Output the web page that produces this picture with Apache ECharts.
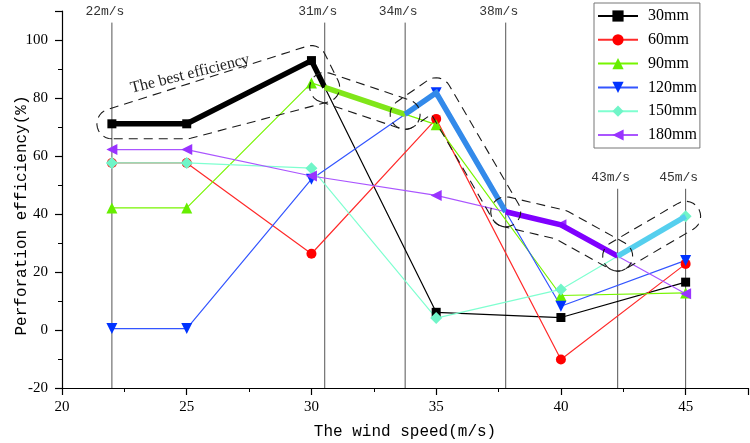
<!DOCTYPE html>
<html><head><meta charset="utf-8">
<script src="https://cdn.jsdelivr.net/npm/echarts@6/dist/echarts.min.js"></script>
<style>html,body{margin:0;padding:0;background:#fff}#c{width:750px;height:443px}</style>
</head><body><div id="c"></div>
<script>
// ---------------- data ----------------
const windSpeeds = [22, 25, 30, 35, 40, 45];
const seriesNames = ['30mm', '60mm', '90mm', '120mm', '150mm', '180mm'];
const eff30  = [71.1, 71.1, 92.9, 6.1, 4.3, 16.5];
const eff60  = [57.6, 57.6, 26.3, 72.8, -10.2, 22.8];
const eff90  = [42.1, 42.1, 85.2, 70.8, 11.9, 12.8];
const eff120 = [0.5, 0.5, 52.0, 81.8, 8.2, 24.0];
const eff150 = [57.6, 57.6, 55.8, 4.1, 14.0, 39.2];
const eff180 = [62.2, 62.2, 53.1, 46.4, 36.3, 12.5];
const xTickLabels = [20, 25, 30, 35, 40, 45];
const yTickLabels = [-20, 0, 20, 40, 60, 80, 100];
const markerLabels = ['22m/s', '31m/s', '34m/s', '38m/s', '43m/s', '45m/s'];
const annotationText = 'The best efficiency';

const allValues = [eff30, eff60, eff90, eff120, eff150, eff180];

// ---------------- layout / style ----------------
const layout = {
  xMax: 47.5, yMax: 110,
  markerTop: [106, 106, 106, 106, 48.7, 48.7],
  outlineRadius: 15
};
const styles = {
  '30mm':  {symbol: 'rect',     size: 9,  rotate: 0,   line: '#000000', marker: '#000000', thick: '#000000', outline: 'hull'},
  '60mm':  {symbol: 'circle',   size: 10, rotate: 0,   line: '#ff2a2a', marker: '#ff0000', thick: '#ff0000', outline: 'path'},
  '90mm':  {symbol: 'triangle', size: 11, rotate: 0,   line: '#77f500', marker: '#66ee00', thick: '#80e619', outline: 'path'},
  '120mm': {symbol: 'triangle', size: 11, rotate: 180, line: '#3355ff', marker: '#0033ff', thick: '#338aea', outline: 'path'},
  '150mm': {symbol: 'diamond',  size: 12, rotate: 0,   line: '#7fffd0', marker: '#70f5c8', thick: '#55cfee', outline: 'path'},
  '180mm': {symbol: 'triangle', size: 11, rotate: 90,  line: '#aa55ff', marker: '#9933ff', thick: '#7f00ff', outline: 'path'}
};

// ---------------- upper envelope (best efficiency) ----------------
function valueAt(vals, x) {
  for (let i = 0; i < windSpeeds.length - 1; i++) {
    const x0 = windSpeeds[i], x1 = windSpeeds[i + 1];
    if (x >= x0 - 1e-9 && x <= x1 + 1e-9) {
      return vals[i] + (vals[i + 1] - vals[i]) * (x - x0) / (x1 - x0);
    }
  }
  return NaN;
}
function argMaxAt(x) {
  let best = 0, bv = -Infinity;
  allValues.forEach((v, k) => { const y = valueAt(v, x); if (y > bv + 1e-9) { bv = y; best = k; } });
  return best;
}
const breaks = windSpeeds.slice();
for (let i = 0; i < windSpeeds.length - 1; i++) {
  for (let a = 0; a < allValues.length; a++) for (let b = a + 1; b < allValues.length; b++) {
    const d0 = allValues[a][i] - allValues[b][i], d1 = allValues[a][i + 1] - allValues[b][i + 1];
    if (d0 * d1 < 0) {
      const t = d0 / (d0 - d1);
      breaks.push(windSpeeds[i] + t * (windSpeeds[i + 1] - windSpeeds[i]));
    }
  }
}
breaks.sort((p, q) => p - q);
const pieces = [];
for (let j = 0; j < breaks.length - 1; j++) {
  const x0 = breaks[j], x1 = breaks[j + 1];
  if (x1 - x0 < 1e-9) continue;
  const k = argMaxAt((x0 + x1) / 2);
  let piece = pieces[pieces.length - 1];
  if (!piece || piece.k !== k) {
    piece = {k: k, xs: [x0]};
    pieces.push(piece);
  }
  piece.xs.push(x1);
}
pieces.forEach((p) => {
  const last = p.xs.length - 1;
  p.xs = p.xs.filter((x, i) => i === 0 || i === last || windSpeeds.some(s => Math.abs(s - x) < 1e-9));
  p.points = p.xs.map(x => [x, valueAt(allValues[p.k], x)]);
});
const lastPiece = pieces[pieces.length - 1];
const markerXs = pieces.map(p => p.xs[0]).concat([lastPiece.xs[lastPiece.xs.length - 1]]);

// ---------------- outline geometry ----------------
function convexHull(pts) {
  const p = pts.slice().sort((a, b) => a[0] - b[0] || a[1] - b[1]);
  const cross = (o, a, b) => (a[0] - o[0]) * (b[1] - o[1]) - (a[1] - o[1]) * (b[0] - o[0]);
  const lower = [];
  for (const q of p) { while (lower.length >= 2 && cross(lower[lower.length - 2], lower[lower.length - 1], q) <= 0) lower.pop(); lower.push(q); }
  const upper = [];
  for (let i = p.length - 1; i >= 0; i--) { const q = p[i]; while (upper.length >= 2 && cross(upper[upper.length - 2], upper[upper.length - 1], q) <= 0) upper.pop(); upper.push(q); }
  upper.pop(); lower.pop();
  return lower.concat(upper);
}
function bufferOutline(core, r) {
  const n = core.length, out = [];
  for (let i = 0; i < n; i++) {
    const a = core[(i - 1 + n) % n], b = core[i], c = core[(i + 1) % n];
    let d1 = [b[0] - a[0], b[1] - a[1]], d2 = [c[0] - b[0], c[1] - b[1]];
    const l1 = Math.hypot(d1[0], d1[1]) || 1, l2 = Math.hypot(d2[0], d2[1]) || 1;
    d1 = [d1[0] / l1, d1[1] / l1]; d2 = [d2[0] / l2, d2[1] / l2];
    const n1 = [d1[1], -d1[0]], n2 = [d2[1], -d2[0]];
    const cr = d1[0] * d2[1] - d1[1] * d2[0], dot = d1[0] * d2[0] + d1[1] * d2[1];
    if (cr > 1e-6 || (Math.abs(cr) <= 1e-6 && dot < 0)) {
      const a1 = Math.atan2(n1[1], n1[0]), a2 = Math.atan2(n2[1], n2[0]);
      let sweep = a2 - a1;
      while (sweep <= 1e-9) sweep += 2 * Math.PI;
      const steps = Math.max(2, Math.ceil(sweep / (Math.PI / 14)));
      for (let k = 0; k <= steps; k++) {
        const ang = a1 + sweep * k / steps;
        out.push([b[0] + r * Math.cos(ang), b[1] + r * Math.sin(ang)]);
      }
    } else if (cr < -1e-6) {
      const s = r / (1 + dot);
      out.push([b[0] + (n1[0] + n2[0]) * s, b[1] + (n1[1] + n2[1]) * s]);
    } else {
      out.push([b[0] + n1[0] * r, b[1] + n1[1] * r]);
    }
  }
  return out;
}

// ---------------- series ----------------
const series = [];
seriesNames.forEach((name, k) => {
  const st = styles[name];
  series.push({
    name: name, type: 'line',
    data: windSpeeds.map((x, i) => [x, allValues[k][i]]),
    symbol: st.symbol, symbolSize: st.size, symbolRotate: st.rotate,
    showSymbol: true,
    lineStyle: {color: st.line, width: 1.2},
    itemStyle: {color: st.marker},
    z: 2, silent: true
  });
});
pieces.forEach((p, idx) => {
  series.push({
    name: 'best' + idx, type: 'line', data: p.points,
    showSymbol: false, symbol: 'none',
    lineStyle: {color: styles[seriesNames[p.k]].thick, width: 5.5, join: 'miter'},
    z: 4, silent: true
  });
});
series.push({
  name: 'outlines', type: 'custom', coordinateSystem: 'cartesian2d', clip: false, silent: true, z: 6,
  data: pieces.map(p => p.points[0]),
  renderItem: (params, api) => {
    const p = pieces[params.dataIndex];
    const px = p.points.map(q => api.coord(q));
    const mode = styles[seriesNames[p.k]].outline;
    const core = mode === 'hull' ? convexHull(px) : px.concat(px.slice(1, -1).reverse());
    const pts = bufferOutline(core, layout.outlineRadius);
    return {type: 'polygon', shape: {points: pts},
      style: {fill: 'none', stroke: '#1a1a1a', lineWidth: 1.1, lineDash: [9, 6]}};
  }
});
series.push({
  name: 'speedMarkers', type: 'custom', coordinateSystem: 'cartesian2d', clip: false, silent: true, z: 1,
  data: markerXs.map((x, i) => [x, layout.markerTop[i]]),
  renderItem: (params, api) => {
    const p0 = api.coord([api.value(0), yTickLabels[0]]);
    const p1 = api.coord([api.value(0), api.value(1)]);
    return {type: 'group', children: [
      {type: 'line', shape: {x1: p0[0], y1: p0[1], x2: p1[0], y2: p1[1]}, style: {stroke: '#555', lineWidth: 1}},
      {type: 'text', x: p1[0] - 7, y: p1[1] - 5,
        style: {text: markerLabels[params.dataIndex], font: '13px "Liberation Mono"', fill: '#333', align: 'center', verticalAlign: 'bottom'}}
    ]};
  }
});

const chart = echarts.init(document.getElementById('c'), null, {renderer: 'canvas'});
chart.setOption({
  animation: false,
  backgroundColor: '#ffffff',
  grid: {left: 62, right: 2, top: 11, bottom: 55, containLabel: false, outerBoundsMode: 'none'},
  legend: {
    data: seriesNames, orient: 'vertical', left: 594, top: 3,
    itemWidth: 40, itemHeight: 14, itemGap: 7.8,
    padding: [5, 3, 5, 3], borderColor: '#777', borderWidth: 1, backgroundColor: '#fff',
    textStyle: {fontFamily: 'Liberation Serif', fontSize: 16, color: '#000', padding: [0, 0, 0, 5]}
  },
  xAxis: {
    type: 'value', min: xTickLabels[0], max: layout.xMax, interval: xTickLabels[1] - xTickLabels[0],
    name: 'The wind speed(m/s)', nameLocation: 'middle', nameGap: 36, nameMoveOverlap: false,
    nameTextStyle: {fontFamily: 'Liberation Mono', fontSize: 16, color: '#000'},
    axisLine: {show: true, onZero: false, lineStyle: {color: '#000', width: 1.2}},
    axisTick: {show: true, length: 7, lineStyle: {color: '#000', width: 1.2}},
    minorTick: {show: true, splitNumber: 2, length: 4, lineStyle: {color: '#000'}},
    splitLine: {show: false},
    axisLabel: {fontFamily: 'Liberation Serif', fontSize: 15, color: '#000', margin: 12, showMaxLabel: false}
  },
  yAxis: {
    type: 'value', min: yTickLabels[0], max: layout.yMax, interval: yTickLabels[1] - yTickLabels[0],
    name: 'Perforation efficiency(%)', nameLocation: 'middle', nameGap: 32, nameMoveOverlap: false,
    nameTextStyle: {fontFamily: 'Liberation Mono', fontSize: 16, color: '#000', padding: [0, 32, 0, 0]},
    axisLine: {show: true, lineStyle: {color: '#000', width: 1.2}},
    axisTick: {show: true, length: 7, lineStyle: {color: '#000', width: 1.2}},
    minorTick: {show: true, splitNumber: 2, length: 4, lineStyle: {color: '#000'}},
    splitLine: {show: false},
    axisLabel: {fontFamily: 'Liberation Serif', fontSize: 15, color: '#000', margin: 14, showMaxLabel: false}
  },
  graphic: [{
    type: 'text', x: 190, y: 74, rotation: 14 * Math.PI / 180, z: 10,
    style: {text: annotationText, font: '16px "Liberation Serif"', fill: '#222', align: 'center', verticalAlign: 'middle'}
  }],
  series: series
});
</script></body></html>
